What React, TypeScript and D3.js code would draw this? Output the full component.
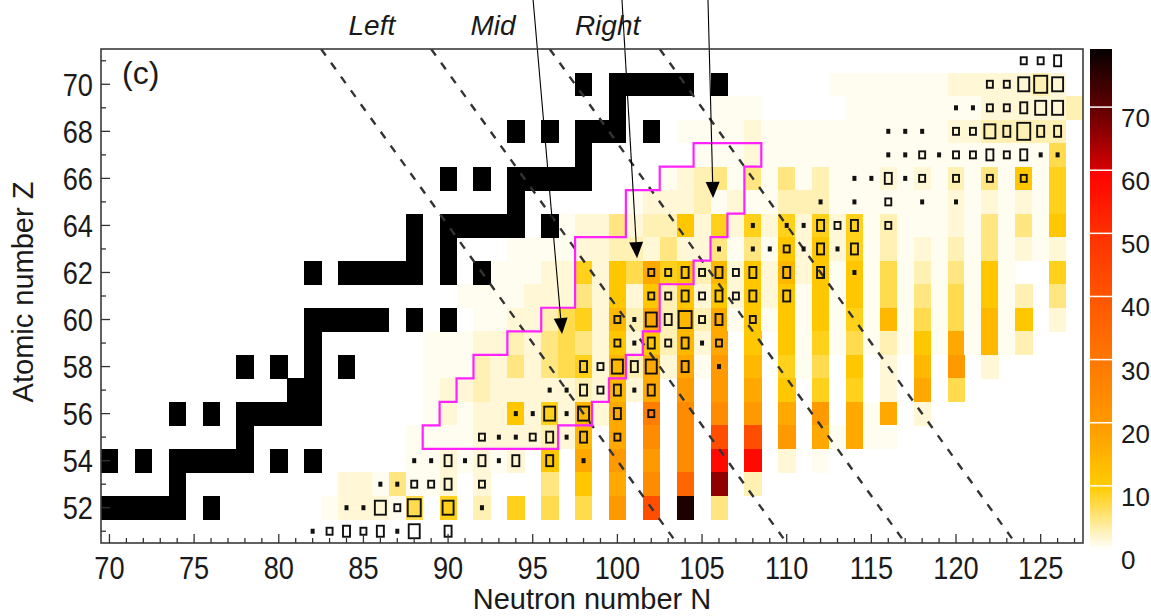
import React from 'react';
import * as d3 from 'd3';

const FONT = '"Liberation Sans", Arial, Helvetica, sans-serif';

// axis ticks
const nLabels = d3.range(70, 126, 5);
const zLabels = d3.range(52, 71, 2);
const cbLabels = [0, 10, 20, 30, 40, 50, 60, 70];
const cbMax = 79.2;

// heat map rows, Z = 71 down to 51, columns N = 82 .. 127
const firstN = 82;
const heatZ = d3.range(71, 50, -1);
const heatRows = [
  '........ .......... .......... .......... ........',
  '........ .......... .......... ...1111111 2222232.',
  '........ .......... ......111. ....111111 11222223',
  '........ .......... ....111121 1111111111 2233333.',
  '........ .......... .....11121 1111111111 1111115.',
  '........ .......... ...1234141 4131112121 3141716.',
  '........ .......... .122231211 3331111111 2121216.',
  '........ .......122 4233726262 6262613111 2141417.',
  '........ ....111122 3324224141 7272613121 3141212.',
  '........ ...1112262 7596738272 8271715131 4171..6.',
  '........ .111122242 7273727272 7171715141 51713.4.',
  '........ ..11223562 8393839171 7171618151 51817.2.',
  '.......1 1122324542 7273829.7. 7161513171 91813...',
  '.......1 1132424562 839291a.8. 615.7.2.8. a.2.....',
  '.......1 2232222232 829.a.a.9. 7.6.6.2.9. 5.......',
  '.......1 2122726282 9.c.b.b.a. 9.a.919.2. ........',
  '......11 112222328. 9.b.b.e.e. a.91911... ........',
  '......11 21212.7.9. a.a.b.g.g. 2.1....... ........',
  '..221411 2.2...4.7. 9.b.d.h.3. .......... ........',
  '.122215. 6.3.6.5.5. a.e.i.4... .......... ........',
  '........ .......... .......... .......... ........',
];
const levelValue: Record<string, number> = {
  '1': 0.6, '2': 1.6, '3': 3, '4': 5, '5': 7, '6': 9, '7': 11, '8': 14, '9': 17,
  a: 20, b: 24, c: 28, d: 35, e: 42, f: 50, g: 58, h: 66, i: 77,
};

// black (stable) nuclei
const stableZ = [70, 69, 68, 67, 66, 65, 64, 63, 62, 60, 59, 58, 57, 56, 55, 54, 53, 52];
const stableN = [
  [98, 100, 101, 102, 103, 104, 106],
  [100],
  [94, 96, 98, 99, 100, 102],
  [98],
  [90, 92, 94, 95, 96, 97, 98],
  [94],
  [88, 90, 91, 92, 93, 94, 96],
  [88, 90],
  [82, 84, 85, 86, 87, 88, 90, 92],
  [82, 83, 84, 85, 86, 88, 90],
  [82],
  [78, 80, 82, 84],
  [81, 82],
  [74, 76, 78, 79, 80, 81, 82],
  [78],
  [70, 72, 74, 75, 76, 77, 78, 80, 82],
  [74],
  [70, 71, 72, 73, 74, 76],
];

// open boxes [N, Z, size]
const boxes: [number, number, number][] = [
  [124, 71, 2], [125, 71, 2], [126, 71, 3],
  [122, 70, 2], [123, 70, 2], [124, 70, 4], [125, 70, 5], [126, 70, 4],
  [120, 69, 1], [121, 69, 1], [122, 69, 2], [123, 69, 2], [124, 69, 3], [125, 69, 4], [126, 69, 4],
  [116, 68, 1], [117, 68, 1], [118, 68, 1], [120, 68, 2], [121, 68, 2], [122, 68, 4], [123, 68, 3], [124, 68, 5], [125, 68, 3], [126, 68, 3],
  [116, 67, 1], [117, 67, 1], [118, 67, 2], [119, 67, 1], [120, 67, 2], [121, 67, 2], [122, 67, 3], [123, 67, 2], [124, 67, 3], [125, 67, 1], [126, 67, 1],
  [114, 66, 1], [115, 66, 1], [116, 66, 3], [117, 66, 1], [118, 66, 2], [120, 66, 2], [122, 66, 2], [124, 66, 2],
  [112, 65, 1], [114, 65, 1], [116, 65, 2], [118, 65, 1], [120, 65, 1],
  [108, 64, 1], [110, 64, 1], [111, 64, 1], [112, 64, 3], [113, 64, 2], [114, 64, 3], [116, 64, 2],
  [106, 63, 1], [108, 63, 1], [109, 63, 1], [110, 63, 2], [111, 63, 1], [112, 63, 3], [113, 63, 1], [114, 63, 3],
  [102, 62, 2], [103, 62, 2], [104, 62, 3], [105, 62, 2], [106, 62, 3], [107, 62, 2], [108, 62, 3], [110, 62, 3], [112, 62, 3], [114, 62, 1],
  [102, 61, 2], [103, 61, 2], [104, 61, 3], [105, 61, 2], [106, 61, 3], [107, 61, 2], [108, 61, 3], [110, 61, 3],
  [100, 60, 2], [101, 60, 1], [102, 60, 4], [103, 60, 3], [104, 60, 5], [105, 60, 2], [106, 60, 3], [108, 60, 2],
  [100, 59, 2], [101, 59, 1], [102, 59, 3], [103, 59, 2], [104, 59, 3], [105, 59, 1], [106, 59, 2],
  [98, 58, 3], [99, 58, 2], [100, 58, 4], [101, 58, 3], [102, 58, 4], [104, 58, 3], [106, 58, 1],
  [96, 57, 1], [97, 57, 1], [98, 57, 3], [99, 57, 2], [100, 57, 3], [101, 57, 1], [102, 57, 3],
  [94, 56, 1], [95, 56, 1], [96, 56, 4], [97, 56, 1], [98, 56, 4], [100, 56, 3], [102, 56, 2],
  [92, 55, 2], [93, 55, 1], [94, 55, 1], [95, 55, 2], [96, 55, 3], [97, 55, 1], [98, 55, 3], [100, 55, 2],
  [88, 54, 1], [89, 54, 1], [90, 54, 3], [91, 54, 1], [92, 54, 3], [93, 54, 1], [94, 54, 3], [96, 54, 3], [98, 54, 1],
  [86, 53, 1], [87, 53, 1], [88, 53, 2], [89, 53, 2], [90, 53, 3], [92, 53, 2],
  [84, 52, 1], [85, 52, 1], [86, 52, 4], [87, 52, 2], [88, 52, 5], [90, 52, 4], [92, 52, 1],
  [82, 51, 1], [83, 51, 2], [84, 51, 3], [85, 51, 2], [86, 51, 3], [87, 51, 1], [88, 51, 4], [90, 51, 3],
];
const boxDims: Record<number, [number, number]> = { 1: [4, 5], 2: [6, 7], 3: [7, 11], 4: [11, 14], 5: [13, 17] };

// magenta contour (cell boundaries)
const contourN = [104.5, 108.5, 108.5, 107.5, 107.5, 106.5, 106.5, 105.5, 105.5, 104.5, 104.5, 102.5, 102.5, 101.5, 101.5, 100.5, 100.5, 99.5, 99.5, 98.5, 98.5, 96.5, 96.5, 88.5, 88.5, 89.5, 89.5, 90.5, 90.5, 91.5, 91.5, 93.5, 93.5, 95.5, 95.5, 97.5, 97.5, 100.5, 100.5, 102.5, 102.5, 104.5];
const contourZ = [67.5, 67.5, 66.5, 66.5, 64.5, 64.5, 63.5, 63.5, 62.5, 62.5, 61.5, 61.5, 59.5, 59.5, 58.5, 58.5, 57.5, 57.5, 56.5, 56.5, 55.5, 55.5, 54.5, 54.5, 55.5, 55.5, 56.5, 56.5, 57.5, 57.5, 58.5, 58.5, 59.5, 59.5, 60.5, 60.5, 63.5, 63.5, 65.5, 65.5, 66.5, 66.5];

// dashed isobars A = N + Z
const isobarA = [154, 160.5, 167.5, 174];
const regionNames = ['Left', 'Mid', 'Right'];
const regionN = [85.5, 92.65, 99.42];
const regionZ = 72.1;

// arrows
const arrowFromN = [95.02, 100.27, 105.35];
const arrowFromZ = 73.6;
const arrowToN = [96.73, 101.16, 105.65];
const arrowToZ = [59.38, 62.61, 65.17];

const color = d3.scaleLinear<string>()
  .domain([0, 10, 20, 30, 40, 50, 59.99, 60, 70, 80])
  .range(['#ffffff', '#ffcc00', '#ff9900', '#ff7700', '#ff5500', '#ff3000', '#ff0000', '#d80000', '#600000', '#000000'])
  .clamp(true);

const App = () => {
  const x = d3.scaleLinear().domain([69.5, 127.5]).range([101, 1083]);
  const y = d3.scaleLinear().domain([50.5, 71.5]).range([543, 49]);
  const cb = d3.scaleLinear().domain([0, cbMax]).range([549, 49]);
  const cw = x(1) - x(0);
  const ch = y(0) - y(1);

  const cells: JSX.Element[] = [];
  heatRows.forEach((row, ri) => {
    const Z = heatZ[ri];
    row.replace(/ /g, '').split('').forEach((c, i) => {
      const v = levelValue[c];
      if (!v) return;
      const N = firstN + i;
      cells.push(
        <rect key={`h${N}-${Z}`} x={x(N - 0.5)} y={y(Z + 0.5)} width={cw + 0.4} height={ch + 0.4} fill={color(v)} />
      );
    });
  });

  const stable: JSX.Element[] = [];
  stableZ.forEach((Z, zi) => {
    stableN[zi].forEach((N) => {
      stable.push(
        <rect key={`s${N}-${Z}`} x={x(N - 0.5)} y={y(Z + 0.5)} width={cw + 0.4} height={ch + 0.4} fill="#000" />
      );
    });
  });

  const contour = d3.line<number>()
    .x((_, i) => x(contourN[i]))
    .y((_, i) => y(contourZ[i]))(contourN) + 'Z';

  const cbSteps = d3.range(0, cbMax, 0.4);

  return (
    <svg width={1151} height={616} style={{ position: 'absolute', left: 0, top: 0, background: '#fff' }} fontFamily={FONT}>
      <defs>
        <clipPath id="plot">
          <rect x={101} y={49} width={982} height={494} />
        </clipPath>
      </defs>
      <g clipPath="url(#plot)" shapeRendering="crispEdges">
        {cells}
        {stable}
      </g>
      <g clipPath="url(#plot)">
        {isobarA.map((A) => (
          <line key={A} x1={x(A - 71.5)} y1={y(71.5)} x2={x(A - 50.5)} y2={y(50.5)}
            stroke="#333" strokeWidth={2.4} strokeDasharray="8,9" />
        ))}
        <path d={contour} fill="none" stroke="#ff22ff" strokeWidth={2.2} />
        {boxes.map(([N, Z, s]) => {
          const [w, h] = boxDims[s];
          return s === 1 ? (
            <rect key={`b${N}-${Z}`} x={x(N) - w / 2} y={y(Z) - h / 2} width={w} height={h} fill="#111" />
          ) : (
            <rect key={`b${N}-${Z}`} x={x(N) - w / 2} y={y(Z) - h / 2} width={w} height={h} fill="none" stroke="#111" strokeWidth={1.9} />
          );
        })}
      </g>

      {/* arrows */}
      {arrowToN.map((tn, i) => {
        const x0 = x(arrowFromN[i]), y0 = y(arrowFromZ);
        const x1 = x(tn), y1 = y(arrowToZ[i]);
        const len = Math.hypot(x1 - x0, y1 - y0);
        const ux = (x1 - x0) / len, uy = (y1 - y0) / len;
        const bx = x1 - ux * 16, by = y1 - uy * 16;
        const pts = [[x1, y1], [bx - uy * 7, by + ux * 7], [bx + uy * 7, by - ux * 7]];
        return (
          <g key={`a${i}`}>
            <line x1={x0} y1={y0} x2={bx} y2={by} stroke="#000" strokeWidth={1.1} />
            <polygon points={pts.map((p) => p.join(',')).join(' ')} fill="#000" />
          </g>
        );
      })}

      {/* frame */}
      <rect x={101} y={49} width={982} height={494} fill="none" stroke="#3a3a3a" strokeWidth={1.6} />
      {d3.range(70, 128).map((N) => (
        <line key={`tx${N}`} x1={x(N)} x2={x(N)} y1={543} y2={543 - (N % 5 === 0 ? 9 : 5)} stroke="#333" strokeWidth={1.3} />
      ))}
      {d3.range(51, 72).map((Z) => (
        <line key={`tz${Z}`} x1={101} x2={101 + (Z % 2 === 0 ? 9 : 5)} y1={y(Z)} y2={y(Z)} stroke="#333" strokeWidth={1.3} />
      ))}

      {nLabels.map((N) => (
        <text key={`lx${N}`} transform={`translate(${x(N)},579) scale(0.85,1)`} textAnchor="middle" fontSize={32} fill="#1a1a1a">{N}</text>
      ))}
      {zLabels.map((Z) => (
        <text key={`lz${Z}`} transform={`translate(93,${y(Z) + 11.5}) scale(0.85,1)`} textAnchor="end" fontSize={32} fill="#1a1a1a">{Z}</text>
      ))}
      <text x={592} y={609} textAnchor="middle" fontSize={29} fill="#1a1a1a">Neutron number N</text>
      <text transform={`translate(33,292) rotate(-90)`} textAnchor="middle" fontSize={29} fill="#1a1a1a">Atomic number Z</text>
      <text x={122} y={84} fontSize={32} fill="#1a1a1a">(c)</text>

      {regionNames.map((t, i) => (
        <text key={t} x={x(regionN[i])} y={y(regionZ)} textAnchor="middle" fontSize={28} fontStyle="italic" fill="#1a1a1a">{t}</text>
      ))}

      {/* colour bar */}
      <g shapeRendering="crispEdges">
        {cbSteps.map((v) => (
          <rect key={`c${v}`} x={1090} y={cb(Math.min(v + 0.4, cbMax))} width={22} height={cb(v) - cb(Math.min(v + 0.4, cbMax)) + 0.6} fill={color(v + 0.2)} />
        ))}
      </g>
      {cbLabels.slice(1).map((v) => (
        <line key={`cs${v}`} x1={1090} x2={1112} y1={cb(v)} y2={cb(v)} stroke="#fff" strokeWidth={1.5} />
      ))}
      {cbLabels.map((v) => (
        <text key={`cl${v}`} x={1121} y={cb(v) + 20} fontSize={26} fill="#1a1a1a">{v}</text>
      ))}
    </svg>
  );
};

export default App;
